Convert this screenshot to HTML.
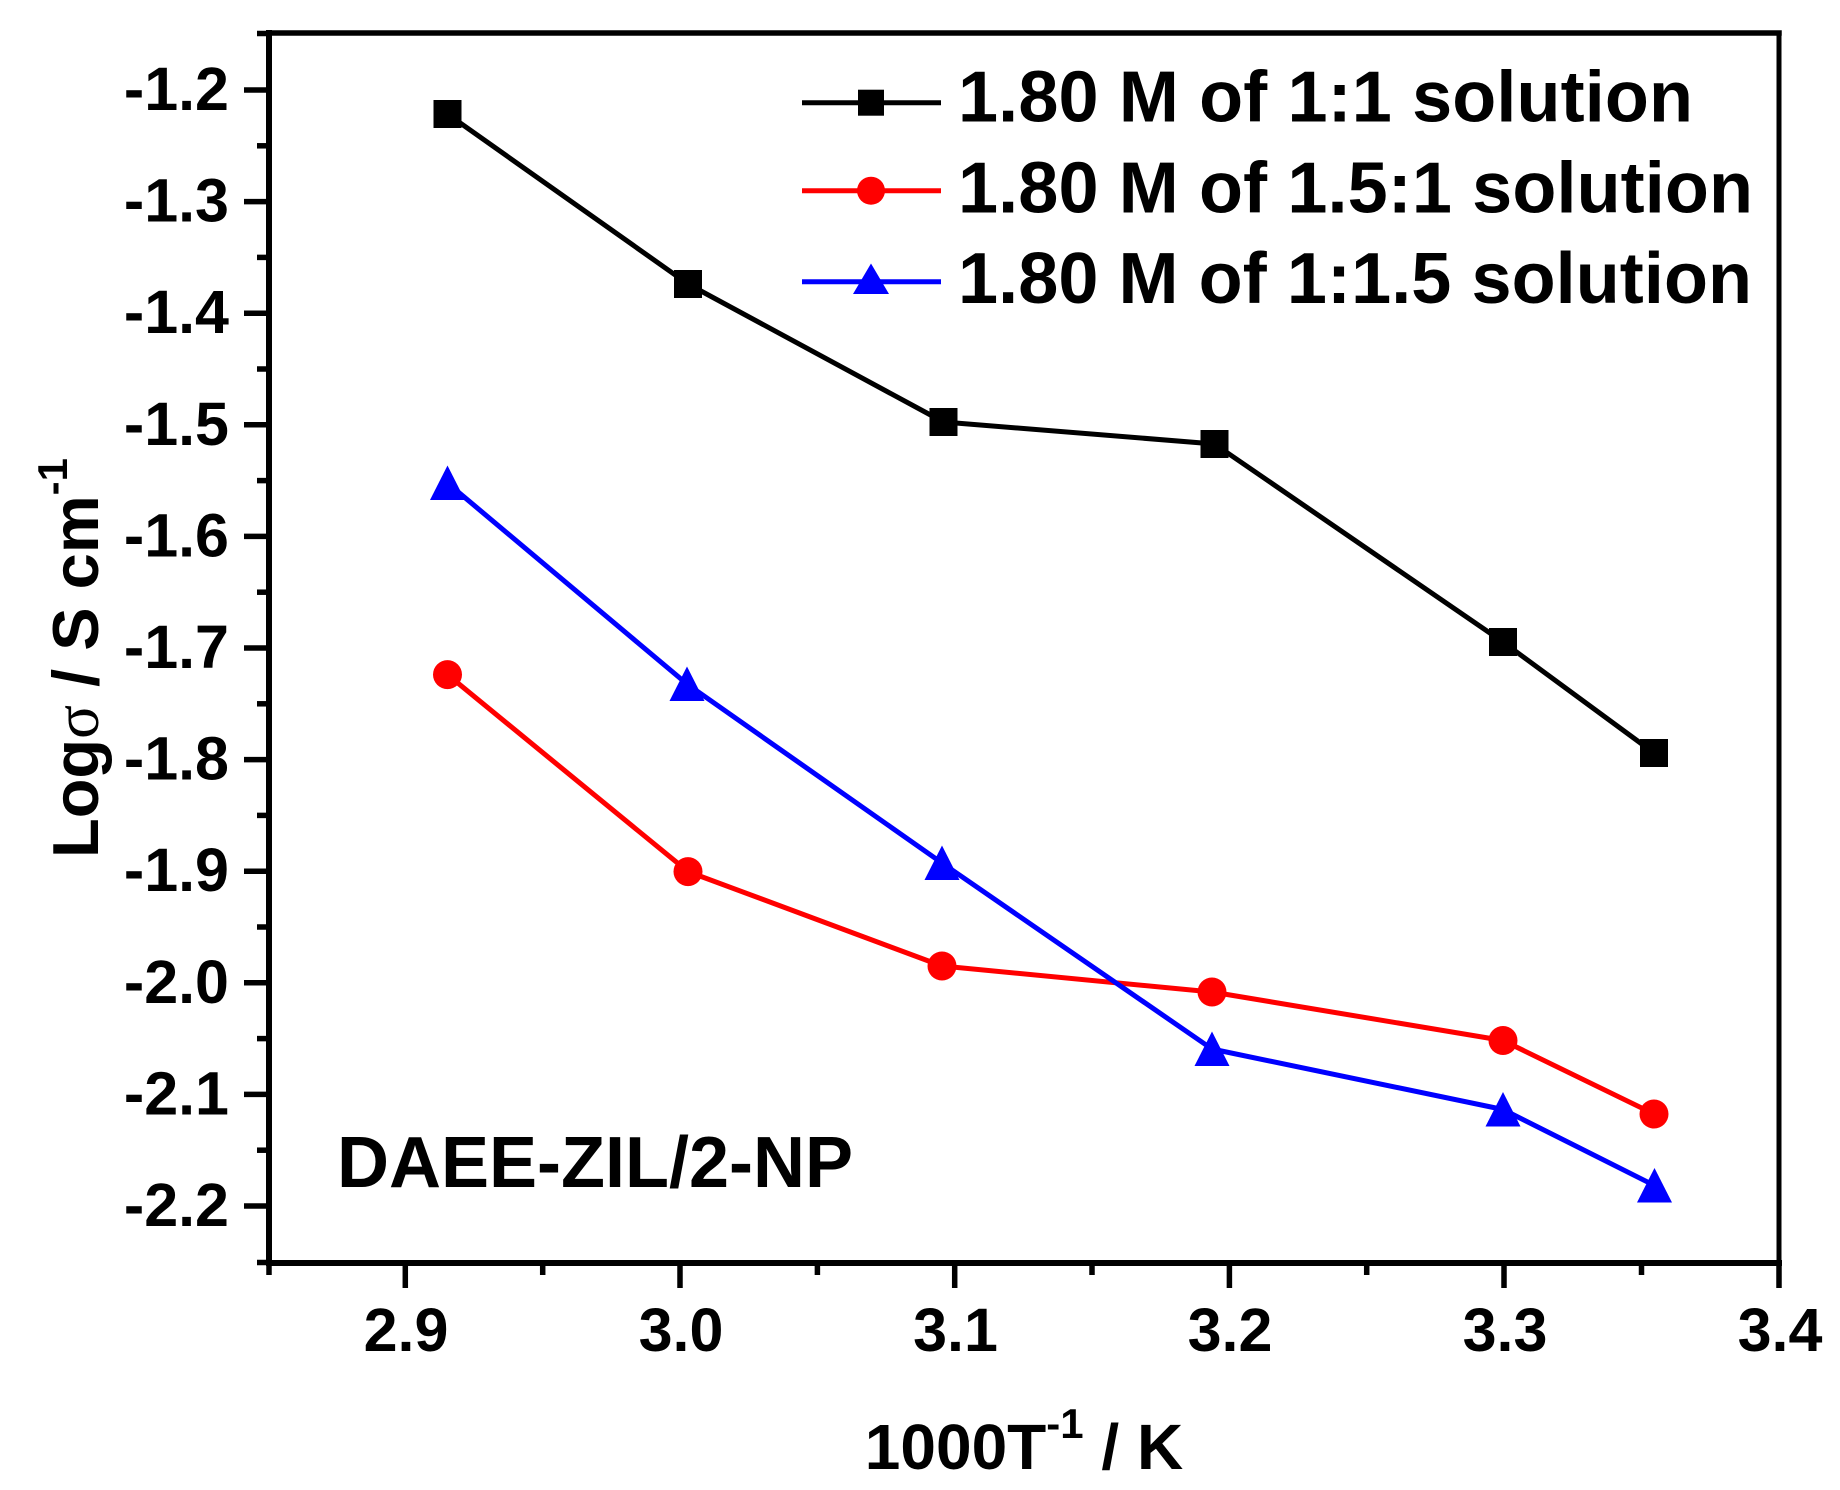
<!DOCTYPE html>
<html>
<head>
<meta charset="utf-8">
<style>
  html,body{margin:0;padding:0;background:#fff;}
  svg{display:block;}
  text{font-family:"Liberation Sans", Arial, sans-serif; font-weight:bold; fill:#000;}
</style>
</head>
<body>
<svg width="1840" height="1490" viewBox="0 0 1840 1490" xmlns="http://www.w3.org/2000/svg">
  <rect x="0" y="0" width="1840" height="1490" fill="#fff"/>

  <!-- Axes frame -->
  <g stroke="#000" stroke-linecap="square" fill="none">
    <line x1="269" y1="33" x2="1779" y2="33" stroke-width="5.5"/>
    <line x1="1779" y1="33" x2="1779" y2="1263" stroke-width="5"/>
    <line x1="269" y1="33" x2="269" y2="1263" stroke-width="6"/>
    <line x1="269" y1="1263" x2="1779" y2="1263" stroke-width="6"/>
  </g>

  <!-- Y ticks -->
  <g stroke="#000" stroke-width="5.5">
    <!-- major -->
    <line x1="244" y1="90" x2="269" y2="90"/>
    <line x1="244" y1="201.6" x2="269" y2="201.6"/>
    <line x1="244" y1="313.2" x2="269" y2="313.2"/>
    <line x1="244" y1="424.8" x2="269" y2="424.8"/>
    <line x1="244" y1="536.4" x2="269" y2="536.4"/>
    <line x1="244" y1="648" x2="269" y2="648"/>
    <line x1="244" y1="759.6" x2="269" y2="759.6"/>
    <line x1="244" y1="871.2" x2="269" y2="871.2"/>
    <line x1="244" y1="982.8" x2="269" y2="982.8"/>
    <line x1="244" y1="1094.4" x2="269" y2="1094.4"/>
    <line x1="244" y1="1206" x2="269" y2="1206"/>
    <!-- minor -->
    <line x1="257" y1="33.5" x2="269" y2="33.5"/>
    <line x1="257" y1="145.8" x2="269" y2="145.8"/>
    <line x1="257" y1="257.4" x2="269" y2="257.4"/>
    <line x1="257" y1="369" x2="269" y2="369"/>
    <line x1="257" y1="480.6" x2="269" y2="480.6"/>
    <line x1="257" y1="592.2" x2="269" y2="592.2"/>
    <line x1="257" y1="703.8" x2="269" y2="703.8"/>
    <line x1="257" y1="815.4" x2="269" y2="815.4"/>
    <line x1="257" y1="927" x2="269" y2="927"/>
    <line x1="257" y1="1038.6" x2="269" y2="1038.6"/>
    <line x1="257" y1="1150.2" x2="269" y2="1150.2"/>
    <line x1="257" y1="1262.5" x2="269" y2="1262.5"/>
  </g>

  <!-- X ticks -->
  <g stroke="#000" stroke-width="5.5">
    <!-- major -->
    <line x1="405.3" y1="1263" x2="405.3" y2="1288"/>
    <line x1="680" y1="1263" x2="680" y2="1288"/>
    <line x1="954.7" y1="1263" x2="954.7" y2="1288"/>
    <line x1="1229.4" y1="1263" x2="1229.4" y2="1288"/>
    <line x1="1504" y1="1263" x2="1504" y2="1288"/>
    <line x1="1779" y1="1263" x2="1779" y2="1288"/>
    <!-- minor -->
    <line x1="269" y1="1263" x2="269" y2="1275"/>
    <line x1="542.7" y1="1263" x2="542.7" y2="1275"/>
    <line x1="817.4" y1="1263" x2="817.4" y2="1275"/>
    <line x1="1092" y1="1263" x2="1092" y2="1275"/>
    <line x1="1366.7" y1="1263" x2="1366.7" y2="1275"/>
    <line x1="1641.5" y1="1263" x2="1641.5" y2="1275"/>
  </g>

  <!-- Y tick labels -->
  <g font-size="61" text-anchor="end">
    <text x="229" y="110">-1.2</text>
    <text x="229" y="221.6">-1.3</text>
    <text x="229" y="333.2">-1.4</text>
    <text x="229" y="444.8">-1.5</text>
    <text x="229" y="556.4">-1.6</text>
    <text x="229" y="668">-1.7</text>
    <text x="229" y="779.6">-1.8</text>
    <text x="229" y="891.2">-1.9</text>
    <text x="229" y="1002.8">-2.0</text>
    <text x="229" y="1114.4">-2.1</text>
    <text x="229" y="1226">-2.2</text>
  </g>

  <!-- X tick labels -->
  <g font-size="61" text-anchor="middle">
    <text x="406" y="1351">2.9</text>
    <text x="681" y="1351">3.0</text>
    <text x="955.5" y="1351">3.1</text>
    <text x="1230" y="1351">3.2</text>
    <text x="1505" y="1351">3.3</text>
    <text x="1780" y="1351">3.4</text>
  </g>

  <!-- Axis titles -->
  <text x="1024" y="1469" font-size="64" text-anchor="middle">1000T<tspan dy="-31" font-size="42">-1</tspan><tspan dy="31"> / K</tspan></text>

  <text transform="translate(98,858) rotate(-90)" font-size="65">Log<tspan font-family="'Liberation Serif', 'DejaVu Serif', serif" font-weight="normal" font-size="63">σ</tspan> / S cm<tspan dy="-31" font-size="42">-1</tspan></text>

  <!-- Annotation -->
  <text x="337" y="1187" font-size="72">DAEE-ZIL/2-NP</text>

  <!-- Series lines -->
  <g fill="none" stroke-width="5" stroke-linejoin="round">
    <polyline stroke="#000000" points="447.5,114 688,284 943.5,422 1214.5,444 1503,642 1654,753"/>
    <polyline stroke="#ff0000" points="447.5,674.6 688,871.6 942,966 1212,992 1503,1040.5 1654,1114"/>
    <polyline stroke="#0000ff" points="447.5,483 687,684 942,863 1212,1049 1503,1109.5 1654.5,1185.5"/>
  </g>

  <!-- Black squares -->
  <g fill="#000">
    <rect x="433.5" y="100" width="28" height="28"/>
    <rect x="674" y="270" width="28" height="28"/>
    <rect x="929.5" y="408" width="28" height="28"/>
    <rect x="1200.5" y="430" width="28" height="28"/>
    <rect x="1489" y="628" width="28" height="28"/>
    <rect x="1640" y="739" width="28" height="28"/>
  </g>

  <!-- Red circles -->
  <g fill="#ff0000">
    <circle cx="447.5" cy="674.6" r="14.5"/>
    <circle cx="688" cy="871.6" r="14.5"/>
    <circle cx="942" cy="966" r="14.5"/>
    <circle cx="1212" cy="992" r="14.5"/>
    <circle cx="1503" cy="1040.5" r="14.5"/>
    <circle cx="1654" cy="1114" r="14.5"/>
  </g>

  <!-- Blue triangles -->
  <g fill="#0000ff">
    <polygon points="447.5,465.5 465,500 430,500"/>
    <polygon points="687,666.5 704.5,701 669.5,701"/>
    <polygon points="942,845.5 959.5,880 924.5,880"/>
    <polygon points="1212,1031.5 1229.5,1066 1194.5,1066"/>
    <polygon points="1503,1092 1520.5,1126.5 1485.5,1126.5"/>
    <polygon points="1654.5,1168 1672,1202.5 1637,1202.5"/>
  </g>

  <!-- Legend -->
  <g stroke-width="5">
    <line x1="802" y1="102.7" x2="941" y2="102.7" stroke="#000"/>
    <line x1="802" y1="190.7" x2="941" y2="190.7" stroke="#ff0000"/>
    <line x1="802" y1="281.7" x2="941" y2="281.7" stroke="#0000ff"/>
  </g>
  <rect x="858" y="89.7" width="26" height="26" fill="#000"/>
  <circle cx="871" cy="190.7" r="14" fill="#ff0000"/>
  <polygon points="871,263.5 889,294 853,294" fill="#0000ff"/>

  <g font-size="72">
    <text x="958" y="121.7" textLength="735" lengthAdjust="spacing">1.80 M of 1:1 solution</text>
    <text x="958" y="212.7" textLength="795" lengthAdjust="spacing">1.80 M of 1.5:1 solution</text>
    <text x="958" y="303" textLength="794" lengthAdjust="spacing">1.80 M of 1:1.5 solution</text>
  </g>
</svg>
</body>
</html>
